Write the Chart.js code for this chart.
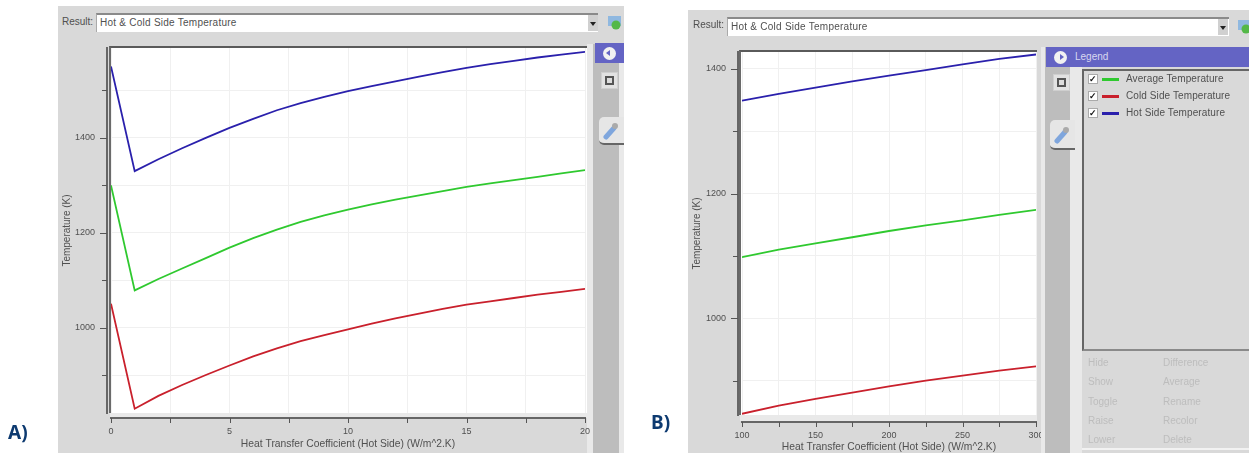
<!DOCTYPE html>
<html lang="en">
<head>
<meta charset="UTF-8">
<title>Hot & Cold Side Temperature</title>
<style>
    html, body { margin: 0; background: white; font-family: "Liberation Sans", Arial, sans-serif; color: #505050; overflow: hidden; }
    body { width: 1249px; height: 453px; position: relative; }
    div, canvas, span, svg { position: absolute; box-sizing: border-box; }
    #stage { left: 0; top: 0; width: 1249px; height: 453px; filter: blur(0.5px); }
    .bg { background: #d9d9d9; }
    .plot { background: white; border-top: 2px solid #5a5a5a; border-left: 2px solid #6a6a6a; }
    .strip { background: #e9e9e9; }
    .side { z-index: 3; }
    .result { font-size: 10px; line-height: 12px; }
    .input { background: white; border-top: 2px solid #8a8a8a; border-left: 1px solid #aaa; font-size: 10px; line-height: 15px; padding-left: 3px; color: #505050; letter-spacing: .25px; }
    .drop { background: #d0d0d0; width: 10px; height: 16px; }
    .drop:after { content: ""; position: absolute; left: 2px; top: 7px; border: 3px solid transparent; border-top: 4px solid #222; }
    .head { background: #6464c4; color: #d8d8f0; font-size: 10px; line-height: 20px; z-index: 4; }
    .knob { width: 13px; height: 13px; border-radius: 50%; background: #f2f2f2; }
    .knob:after { content: ""; position: absolute; top: 3px; border: 3.5px solid transparent; }
    .knob.back:after { left: 0; border-right: 4px solid #6464c4; }
    .knob.fwd:after { left: 6px; border-left: 4px solid #6464c4; }
    .btn { width: 17px; height: 17px; background: #e2e2e2; border: 1px solid #cfcfcf; z-index: 4; }
    .btn:after { content: ""; position: absolute; left: 3px; top: 3px; width: 9px; height: 9px; border: 2px solid #555; box-sizing: border-box; background: #ddd; }
    .tab { background: #e6e6e6; border-radius: 5px 0 0 5px; border-bottom: 2px solid #666; z-index: 4; }
    .lbl { font: bold 20px "Noto Sans", sans-serif; color: #0d3a70; transform: scaleX(.95); transform-origin: left; }
    .box { border-top: 2px solid #666; border-left: 2px solid #666; border-bottom: 2px solid #8a8a8a; background: #d9d9d9; z-index: 4; }
    .check { width: 10px; height: 10px; background: white; border: 1px solid #aaa; z-index: 5; font-size: 9px; line-height: 8px; color: #111; text-align: center; font-weight: bold; }
    .swatch { width: 17px; height: 2.5px; z-index: 5; }
    .item { font-size: 10px; line-height: 12px; z-index: 5; white-space: nowrap; letter-spacing: .1px; }
    .off { font-size: 10px; line-height: 12px; color: #bdbdbd; z-index: 5; }
</style>
</head>
<body>
<div id="stage">
    <!-- panel A -->
    <div class="bg" style="left:58px;top:6px;width:566px;height:447px"></div>
    <div class="result" style="left:62px;top:16px">Result:</div>
    <div class="input" style="left:96px;top:13px;width:502px;height:19px">Hot &amp; Cold Side Temperature</div>
    <div class="drop" style="left:588px;top:15px"></div>
    <div class="strip" style="left:110px;top:47px;width:477px;height:371px"></div>
    <div class="strip" style="left:587px;top:44px;width:5px;height:409px"></div>
    <div class="plot" style="left:109px;top:46px;width:478px;height:367px"></div>
    <canvas id="chartA" style="left:58px;top:6px;width:534px;height:447px"></canvas>
    <div class="side strip" style="left:592px;top:44px;width:32px;height:409px"></div>
    <div class="side" style="left:593px;top:44px;width:26px;height:409px;background:#bdbdbd"></div>
    <div class="head" style="left:595px;top:43px;width:29px;height:20px"><div class="knob back" style="left:8px;top:4px"></div></div>
    <div class="btn" style="left:601px;top:72px"></div>
    <div class="tab" style="left:599px;top:117px;width:25px;height:28px">
        <svg width="16" height="18" style="left:4px;top:5px"><path d="M3 15 L11 6" stroke="#7fa6dd" stroke-width="5" stroke-linecap="round"/><circle cx="12" cy="4" r="3" fill="#aaa"/></svg>
    </div>
    <svg class="side" width="14" height="14" style="left:608px;top:16px;z-index:4"><rect x="0" y="0" width="13" height="10" fill="#8fb8e0"/><circle cx="8" cy="9" r="4.5" fill="#54b848"/></svg>
    <div class="lbl" style="left:8px;top:418px">A)</div>

    <!-- panel B -->
    <div class="bg" style="left:688px;top:10px;width:561px;height:443px"></div>
    <div class="result" style="left:693px;top:19px">Result:</div>
    <div class="input" style="left:727px;top:17px;width:502px;height:19px">Hot &amp; Cold Side Temperature</div>
    <div class="drop" style="left:1218px;top:19px"></div>
    <div class="strip" style="left:740px;top:50px;width:297px;height:371px"></div>
    <div class="plot" style="left:739px;top:50px;width:298px;height:365px"></div>
    <canvas id="chartB" style="left:688px;top:10px;width:353px;height:443px"></canvas>
    <div class="side strip" style="left:1041px;top:47px;width:41px;height:406px"></div>
    <div class="side" style="left:1045px;top:47px;width:25px;height:406px;background:#bdbdbd"></div>
    <div class="head" style="left:1046px;top:47px;width:203px;height:20px;padding-left:29px">Legend<div class="knob fwd" style="left:8px;top:4px"></div></div>
    <div class="btn" style="left:1053px;top:74px"></div>
    <div class="tab" style="left:1050px;top:120px;width:25px;height:30px">
        <svg width="16" height="18" style="left:4px;top:6px"><path d="M3 15 L11 6" stroke="#7fa6dd" stroke-width="5" stroke-linecap="round"/><circle cx="12" cy="4" r="3" fill="#aaa"/></svg>
    </div>
    <svg class="side" width="14" height="14" style="left:1238px;top:20px;z-index:4"><rect x="0" y="0" width="13" height="10" fill="#8fb8e0"/><circle cx="8" cy="9" r="4.5" fill="#54b848"/></svg>
    <div class="box" style="left:1082px;top:69px;width:167px;height:282px"></div>
    <div class="side" style="left:1082px;top:448px;width:167px;height:2px;background:#f2f2f2"></div>
    <div class="lbl" style="left:651px;top:408px">B)</div>
</div>

<script src="https://cdn.jsdelivr.net/npm/chart.js"></script>
<script>
    // labels
    const xTitle = "Heat Transfer Coefficient (Hot Side) (W/m^2.K)";
    const yTitle = "Temperature (K)";
    const seriesNames = ["Average Temperature", "Cold Side Temperature", "Hot Side Temperature"];
    const seriesColors = ["#2fc92f", "#c9202c", "#2a20ac"];
    const actionsLeft = ["Hide", "Show", "Toggle", "Raise", "Lower"];
    const actionsRight = ["Difference", "Average", "Rename", "Recolor", "Delete"];

    // plot A
    const xA = [0, 1, 2, 3, 4, 5, 6, 7, 8, 9, 10, 11, 12, 13, 14, 15, 16, 17, 18, 19, 20];
    const avgA = [1300, 1079, 1103, 1125, 1147, 1169, 1189, 1207, 1223, 1237, 1249, 1260, 1270, 1279, 1288, 1297, 1304, 1311, 1318, 1325, 1332];
    const coldA = [1051, 830, 857, 880, 901, 921, 940, 957, 972, 985, 997, 1009, 1020, 1030, 1040, 1049, 1056, 1063, 1070, 1076, 1082];
    const hotA = [1550, 1330, 1355, 1378, 1400, 1421, 1440, 1458, 1473, 1486, 1498, 1509, 1519, 1529, 1538, 1547, 1555, 1562, 1569, 1575, 1581];
    const xTicksA = [0, 2.5, 5, 7.5, 10, 12.5, 15, 17.5, 20];
    const xLabelsA = [0, 5, 10, 15, 20];
    const yTicksA = [900, 1000, 1100, 1200, 1300, 1400, 1500];
    const yLabelsA = [1000, 1200, 1400];

    // plot B
    const xB = [100, 125, 150, 175, 200, 225, 250, 275, 300];
    const avgB = [1098, 1110, 1120, 1130, 1140, 1149, 1157, 1166, 1174];
    const coldB = [847, 860, 871, 881, 891, 900, 908, 916, 923];
    const hotB = [1349, 1360, 1370, 1380, 1389, 1398, 1407, 1416, 1423];
    const xTicksB = [100, 125, 150, 175, 200, 225, 250, 275, 300];
    const xLabelsB = [100, 150, 200, 250, 300];
    const yTicksB = [900, 1000, 1100, 1200, 1300, 1400];
    const yLabelsB = [1000, 1200, 1400];

    const textColor = '#505050';
    const axisFont = { family: '"Liberation Sans", Arial, sans-serif', size: 9 };

    // tick marks and axis bars sit a few px off the plot, so they get drawn by hand
    const axisMarks = {
        id: 'axisMarks',
        afterDraw(chart, args, opts) {
            const { ctx, chartArea, scales } = chart;
            const barX = chartArea.left - 4;
            const barY = chartArea.bottom + opts.gapY;
            ctx.save();
            ctx.strokeStyle = '#666';
            ctx.lineWidth = 2;
            ctx.beginPath();
            ctx.moveTo(barX, chartArea.top - 1);
            ctx.lineTo(barX, chartArea.bottom + 1);
            ctx.moveTo(chartArea.left - 1, barY);
            ctx.lineTo(chartArea.right + 1, barY);
            ctx.stroke();
            ctx.lineWidth = 1;
            ctx.strokeStyle = '#555';
            ctx.beginPath();
            scales.y.ticks.forEach(t => {
                const y = Math.round(scales.y.getPixelForValue(t.value)) + 0.5;
                ctx.moveTo(barX - (t.label ? 7 : 5), y);
                ctx.lineTo(barX, y);
            });
            scales.x.ticks.forEach(t => {
                const x = Math.round(scales.x.getPixelForValue(t.value)) + 0.5;
                ctx.moveTo(x, barY);
                ctx.lineTo(x, barY + 5);
            });
            ctx.stroke();
            ctx.restore();
        }
    };

    function makeChart(id, xs, avg, cold, hot, xTicks, xLabels, yTicks, yLabels, box) {
        const values = [avg, cold, hot];
        return new Chart(document.getElementById(id), {
            type: 'line',
            data: {
                datasets: seriesNames.map((name, i) => ({
                    label: name,
                    data: xs.map((x, j) => ({ x: x, y: values[i][j] })),
                    borderColor: seriesColors[i],
                    borderWidth: 1.8,
                    pointRadius: 0,
                    tension: 0
                }))
            },
            plugins: [axisMarks],
            options: {
                responsive: false,
                animation: false,
                layout: { padding: { top: box.top, right: box.right, bottom: 0, left: 0 } },
                plugins: {
                    legend: { display: false },
                    tooltip: { enabled: false },
                    axisMarks: { gapY: box.gapY }
                },
                scales: {
                    x: {
                        type: 'linear',
                        min: box.xMin,
                        max: box.xMax,
                        afterFit: s => {
                            s.height = box.bottom;
                            s.paddingLeft = 0;
                            s.paddingRight = 0;
                        },
                        afterBuildTicks: s => { s.ticks = xTicks.map(v => ({ value: v })); },
                        ticks: {
                            color: textColor,
                            font: axisFont,
                            padding: box.tickPadX,
                            autoSkip: false,
                            maxRotation: 0,
                            callback: v => xLabels.includes(v) ? String(v) : ''
                        },
                        grid: { color: '#f0f0f0', drawTicks: false },
                        border: { display: false },
                        title: { display: true, text: xTitle, color: textColor, font: { family: axisFont.family, size: 10.3 }, padding: { top: 0, bottom: box.titlePadX } }
                    },
                    y: {
                        type: 'linear',
                        min: box.yMin,
                        max: box.yMax,
                        afterFit: s => {
                            s.width = box.left;
                            s.paddingTop = 0;
                            s.paddingBottom = 0;
                        },
                        afterBuildTicks: s => { s.ticks = yTicks.map(v => ({ value: v })); },
                        ticks: {
                            color: textColor,
                            font: axisFont,
                            padding: 16,
                            autoSkip: false,
                            callback: v => yLabels.includes(v) ? String(v) : ''
                        },
                        grid: { color: '#f0f0f0', drawTicks: false },
                        border: { display: false },
                        title: { display: true, text: yTitle, color: textColor, font: { family: axisFont.family, size: 10 }, padding: { top: 3, bottom: 0 } }
                    }
                }
            }
        });
    }

    function sizeCanvas(id, w, h) {
        const c = document.getElementById(id);
        c.width = w;
        c.height = h;
    }
    sizeCanvas('chartA', 534, 447);
    sizeCanvas('chartB', 353, 443);

    makeChart('chartA', xA, avgA, coldA, hotA, xTicksA, xLabelsA, yTicksA, yLabelsA, {
        top: 42, right: 7, bottom: 40, left: 53, gapY: 5, tickPadX: 13, titlePadX: 3,
        xMin: 0, xMax: 20, yMin: 821, yMax: 1589
    });
    makeChart('chartB', xB, avgB, coldB, hotB, xTicksB, xLabelsB, yTicksB, yLabelsB, {
        top: 42, right: 5, bottom: 38, left: 54, gapY: 7, tickPadX: 15, titlePadX: 0,
        xMin: 100, xMax: 300, yMin: 845, yMax: 1427
    });

    // side panel of plot B
    const stage = document.getElementById('stage');
    seriesNames.forEach((name, i) => {
        const y = 79 + i * 17;
        stage.insertAdjacentHTML('beforeend',
            `<div class="check" style="left:1088px;top:${y - 5}px">✓</div>` +
            `<div class="swatch" style="left:1102px;top:${y - 1}px;background:${seriesColors[i]}"></div>` +
            `<div class="item" style="left:1126px;top:${y - 6}px">${name}</div>`);
    });
    actionsLeft.forEach((name, i) => {
        const y = 357 + i * 19.3;
        stage.insertAdjacentHTML('beforeend',
            `<div class="off" style="left:1088px;top:${y}px">${name}</div>` +
            `<div class="off" style="left:1163px;top:${y}px">${actionsRight[i]}</div>`);
    });
</script>
</body>
</html>
